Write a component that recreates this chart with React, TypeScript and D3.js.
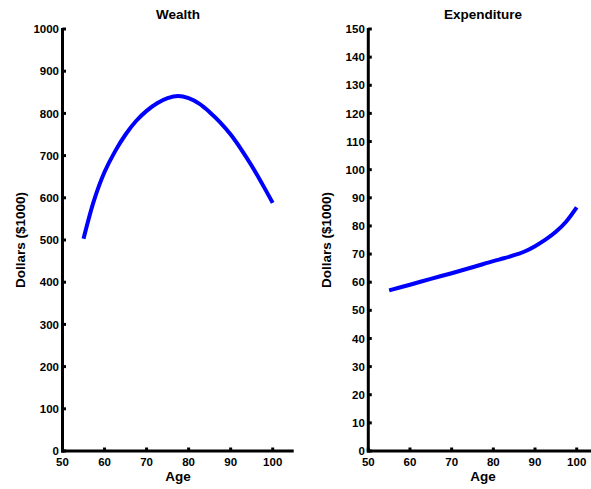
import * as d3 from "d3";

// ages sampled along each curve
const wealthAges = [55, 57.5, 60, 62.5, 65, 67.5, 70, 72.5, 75, 77.5, 80, 82.5, 85, 87.5, 90, 92.5, 95, 97.5, 100];
const wealthValues = [503, 594, 661, 710, 750, 782, 806, 824, 836, 841, 836, 823, 803, 779, 750, 715, 676, 633, 588];

const spendAges = [55, 60, 65, 70, 75, 80, 82.5, 85, 87.5, 90, 92.5, 95, 97.5, 100];
const spendValues = [57.1, 59.1, 61.2, 63.2, 65.3, 67.5, 68.5, 69.6, 70.9, 72.8, 75.1, 77.9, 81.6, 86.6];

const xTicks = [50, 60, 70, 80, 90, 100];
const wealthTicks = d3.range(0, 1001, 100);
const spendTicks = d3.range(0, 151, 10);

const W = 591;
const H = 489;
const FONT = "'Liberation Sans', Arial, Helvetica, sans-serif";

interface PanelProps {
  title: string;
  ages: number[];
  values: number[];
  yMax: number;
  yTicks: number[];
  left: number;
  right: number; // pixel of age 100
}

function Panel({ title, ages, values, yMax, yTicks, left, right }: PanelProps) {
  const top = 29;
  const bottom = 451;
  const x = d3.scaleLinear().domain([50, 100]).range([left, right]);
  const y = d3.scaleLinear().domain([0, yMax]).range([bottom, top]);
  const xEnd = x(105);
  const cx = (x(50) + xEnd) / 2;

  const line = d3
    .line<number>()
    .x((_, i) => x(ages[i]))
    .y((d) => y(d))
    .curve(d3.curveCatmullRom.alpha(0.5));

  return (
    <g fontFamily={FONT} fontWeight="bold" fill="#000">
      <text x={cx} y={19} textAnchor="middle" fontSize={13.5}>
        {title}
      </text>
      <path d={line(values) ?? ""} fill="none" stroke="#0000ff" strokeWidth={4} />
      {/* axes */}
      <line x1={x(50)} x2={x(50)} y1={top - 1} y2={bottom + 1.5} stroke="#000" strokeWidth={3} />
      <line x1={x(50) - 1.5} x2={xEnd} y1={bottom} y2={bottom} stroke="#000" strokeWidth={3} />
      {yTicks.map((t) => (
        <g key={"y" + t}>
          <line x1={x(50)} x2={x(50) + 3.5} y1={y(t)} y2={y(t)} stroke="#000" strokeWidth={3} />
          <text x={x(50) - 3.5} y={y(t)} dy="0.36em" textAnchor="end" fontSize={11.5}>
            {t}
          </text>
        </g>
      ))}
      {xTicks.map((t) => (
        <g key={"x" + t}>
          <line x1={x(t)} x2={x(t)} y1={bottom} y2={bottom - 3.5} stroke="#000" strokeWidth={3} />
          <text x={x(t)} y={466} textAnchor="middle" fontSize={11.5}>
            {t}
          </text>
        </g>
      ))}
      <text x={cx} y={481} textAnchor="middle" fontSize={13.5}>
        Age
      </text>
      <text
        transform={`translate(${x(50) - 37.5},${(top + bottom) / 2}) rotate(-90)`}
        textAnchor="middle"
        fontSize={13.5}
      >
        Dollars ($1000)
      </text>
    </g>
  );
}

export default function App() {
  return (
    <div style={{ position: "absolute", left: 0, top: 0 }}>
      <svg width={W} height={H} style={{ display: "block", background: "#fff" }}>
        <rect width={W} height={H} fill="#fff" />
        <Panel
          title="Wealth"
          ages={wealthAges}
          values={wealthValues}
          yMax={1000}
          yTicks={wealthTicks}
          left={62.5}
          right={272.7}
        />
        <Panel
          title="Expenditure"
          ages={spendAges}
          values={spendValues}
          yMax={150}
          yTicks={spendTicks}
          left={368.3}
          right={576.7}
        />
      </svg>
    </div>
  );
}
